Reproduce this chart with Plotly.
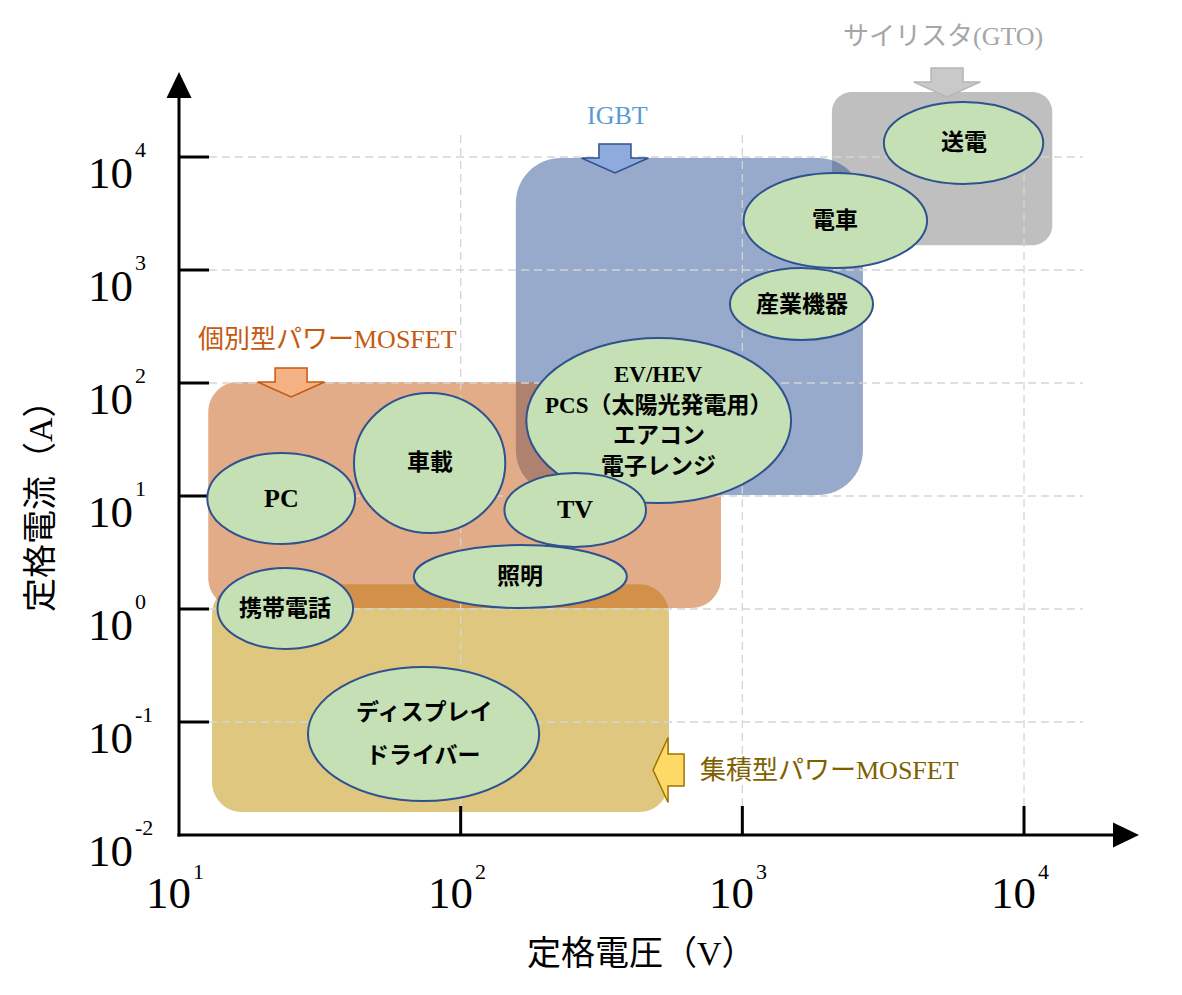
import math
import plotly.graph_objects as go

# ---------------- data ----------------
# Applications: rated voltage range (V) and rated current range (A)
app_labels = ["送電", "電車", "産業機器",
              "EV/HEV\nPCS（太陽光発電用）\nエアコン\n電子レンジ",
              "車載", "PC", "TV", "照明", "携帯電話", "ディスプレイ\nドライバー"]
app_v_min = [3180, 1010, 904, 171, 41.8, 12.6, 143, 68.2, 13.7, 28.7]
app_v_max = [11700, 4530, 2910, 1490, 144, 42.2, 455, 389, 41.5, 190]
app_i_min = [5770, 1040, 240, 8.67, 4.71, 3.76, 3.54, 1.02, 0.443, 0.0200]
app_i_max = [30700, 7210, 1040, 250, 81.7, 24.0, 16.0, 3.68, 2.31, 0.307]

# Device technologies: covered voltage / current regions (drawn in this order)
tech_labels = ["サイリスタ(GTO)", "IGBT", "集積型パワーMOSFET", "個別型パワーMOSFET"]
tech_v_min = [2080, 157, 13.1, 12.7]
tech_v_max = [12600, 2680, 549, 840]
tech_i_min = [1660, 10.2, 0.0160, 1.02]
tech_i_max = [37600, 9800, 1.66, 102]
# arrow tip (V, A) pointing at each region
tech_arrow_v = [5330, 353, 482, 25.0]
tech_arrow_i = [34000, 7210, 0.0376, 75.2]
tech_arrow_dir = ["down", "down", "left", "down"]

x_tick_exp = [1, 2, 3, 4]
y_tick_exp = [-2, -1, 0, 1, 2, 3, 4]

x_title = "定格電圧（V）"
y_title = "定格電流（A）"

# ---------------- styles ----------------
W, H = 1182, 995
SX, SY = 281.67, 113.0          # px per decade
L, R, T, B = 137, 32, 60, 145
X0PX, Y0PX = 179, 835           # pixel of (10^1, 10^-2)
x_range = [1 - (X0PX - L) / SX, 1 + (W - R - X0PX) / SX]
y_range = [-2 - (H - B - Y0PX) / SY, -2 + (Y0PX - T) / SY]

def dx(px):
    return px / SX

def dy(px):
    return px / SY

tech_fill = ["rgba(127,127,127,0.5)", "rgba(47,85,151,0.5)",
             "rgba(191,144,0,0.5)", "rgba(197,90,17,0.5)"]
tech_radius = [20, 45, 30, 30]
arrow_fill = ["#c9c9c9", "#8faadc", "#ffd966", "#f4b183"]
arrow_line = ["#b5b5b5", "#2f528f", "#9c7600", "#c55a11"]
label_color = ["#a6a6a6", "#5b9bd5", "#7f6000", "#c55a11"]
label_off = [(-4, -60), (3, -58), (45, 0), (36, -57)]
label_anchor = ["center", "center", "left", "center"]

ell_fill = "#c5e0b4"
ell_line = "#2f528f"
app_line_gap = [31, 31, 31, 30.7, 31, 31, 31, 31, 31, 43]
app_font_size = [23, 23, 23, 23, 23, 26, 26, 23, 23, 23]

SERIF = "Liberation Serif, Noto Sans CJK JP"
GRID = "#d5d5d5"

shapes = []
annotations = []


def rrect(x0, x1, y0, y1, rpx):
    rx, ry, k = dx(rpx), dy(rpx), 0.5523
    return (f"M{x0+rx},{y0} L{x1-rx},{y0} "
            f"C{x1-rx+k*rx},{y0} {x1},{y0+ry-k*ry} {x1},{y0+ry} "
            f"L{x1},{y1-ry} C{x1},{y1-ry+k*ry} {x1-rx+k*rx},{y1} {x1-rx},{y1} "
            f"L{x0+rx},{y1} C{x0+rx-k*rx},{y1} {x0},{y1-ry+k*ry} {x0},{y1-ry} "
            f"L{x0},{y0+ry} C{x0},{y0+ry-k*ry} {x0+rx-k*rx},{y0} {x0+rx},{y0} Z")


# technology regions
for i in range(len(tech_labels)):
    x0, x1 = math.log10(tech_v_min[i]), math.log10(tech_v_max[i])
    y0, y1 = math.log10(tech_i_min[i]), math.log10(tech_i_max[i])
    shapes.append(dict(type="path", xref="x", yref="y",
                       path=rrect(x0, x1, y0, y1, tech_radius[i]),
                       fillcolor=tech_fill[i], line=dict(width=0)))

# grid lines
for e in y_tick_exp[1:]:
    shapes.append(dict(type="line", xref="x", yref="y",
                       x0=1 + dx(30), x1=1 + dx(1083 - X0PX), y0=e, y1=e,
                       line=dict(color=GRID, width=1.3, dash="8px,5px")))
for e in x_tick_exp[1:]:
    shapes.append(dict(type="line", xref="x", yref="y",
                       x0=e, x1=e, y0=-2 + dy(29), y1=-2 + dy(Y0PX - 130),
                       line=dict(color=GRID, width=1.3, dash="8px,5px")))

# axes with arrow heads
shapes.append(dict(type="line", xref="x", yref="y", x0=1, x1=1,
                   y0=-2 - dy(1.5), y1=-2 + dy(Y0PX - 96),
                   line=dict(color="black", width=3)))
shapes.append(dict(type="line", xref="x", yref="y", x0=1 - dx(1.5),
                   x1=1 + dx(1115 - X0PX), y0=-2, y1=-2,
                   line=dict(color="black", width=3)))
ytip = -2 + dy(Y0PX - 72)
ybase = -2 + dy(Y0PX - 98)
shapes.append(dict(type="path", xref="x", yref="y",
                   path=f"M{1-dx(12.5)},{ybase} L{1},{ytip} L{1+dx(12.5)},{ybase} Z",
                   fillcolor="black", line=dict(width=0)))
xtip = 1 + dx(1139 - X0PX)
xbase = 1 + dx(1113 - X0PX)
shapes.append(dict(type="path", xref="x", yref="y",
                   path=f"M{xbase},{-2+dy(12.5)} L{xtip},{-2} L{xbase},{-2-dy(12.5)} Z",
                   fillcolor="black", line=dict(width=0)))

# ticks
for e in y_tick_exp[1:]:
    shapes.append(dict(type="line", xref="x", yref="y", x0=1, x1=1 + dx(30),
                       y0=e, y1=e, line=dict(color="black", width=3)))
for e in x_tick_exp[1:]:
    shapes.append(dict(type="line", xref="x", yref="y", x0=e, x1=e,
                       y0=-2, y1=-2 + dy(29), line=dict(color="black", width=3)))

# block arrows
DOWN = [(-16, -29), (16, -29), (16, -15), (33.5, -15), (0, 0), (-33.5, -15), (-16, -15)]
LEFT = [(0, 0), (15, -32.5), (15, -16), (31, -16), (31, 16), (15, 16), (15, 32.5)]
for i in range(len(tech_labels)):
    tx, ty = math.log10(tech_arrow_v[i]), math.log10(tech_arrow_i[i])
    pts = DOWN if tech_arrow_dir[i] == "down" else LEFT
    p = "M" + " L".join(f"{tx+dx(a)},{ty-dy(b)}" for a, b in pts) + " Z"
    shapes.append(dict(type="path", xref="x", yref="y", path=p,
                       fillcolor=arrow_fill[i],
                       line=dict(color=arrow_line[i], width=1.5)))
    ox, oy = label_off[i]
    annotations.append(dict(x=tx, y=ty, xref="x", yref="y", showarrow=False,
                            xshift=ox, yshift=-oy, text=tech_labels[i],
                            xanchor=label_anchor[i], yanchor="middle",
                            font=dict(family=SERIF, size=26, color=label_color[i])))

# application ellipses
for i in range(len(app_labels)):
    x0, x1 = math.log10(app_v_min[i]), math.log10(app_v_max[i])
    y0, y1 = math.log10(app_i_min[i]), math.log10(app_i_max[i])
    shapes.append(dict(type="circle", xref="x", yref="y", x0=x0, x1=x1, y0=y0, y1=y1,
                       fillcolor=ell_fill, line=dict(color=ell_line, width=2)))
    lines = app_labels[i].split("\n")
    n = len(lines)
    cx, cy = (x0 + x1) / 2, (y0 + y1) / 2
    for j, t in enumerate(lines):
        off = (j - (n - 1) / 2) * app_line_gap[i]
        annotations.append(dict(x=cx, y=cy, xref="x", yref="y", showarrow=False,
                                yshift=-off, text=t, xanchor="center", yanchor="middle",
                                font=dict(family=SERIF, size=app_font_size[i],
                                          color="black", weight="bold")))

# tick labels (10 with superscript exponent)
for e in y_tick_exp:
    annotations.append(dict(x=1, y=e, xref="x", yref="y", showarrow=False,
                            text="10", xanchor="right", yanchor="middle",
                            xshift=-44, yshift=-16,
                            font=dict(family="Liberation Serif", size=45, color="black")))
    annotations.append(dict(x=1, y=e, xref="x", yref="y", showarrow=False,
                            text=str(e), xanchor="left", yanchor="middle",
                            xshift=-46, yshift=8,
                            font=dict(family="Liberation Serif", size=22, color="black")))
for e in x_tick_exp:
    annotations.append(dict(x=e, y=-2, xref="x", yref="y", showarrow=False,
                            text="10", xanchor="right", yanchor="middle",
                            xshift=14, yshift=-57.5,
                            font=dict(family="Liberation Serif", size=45, color="black")))
    annotations.append(dict(x=e, y=-2, xref="x", yref="y", showarrow=False,
                            text=str(e), xanchor="left", yanchor="middle",
                            xshift=12, yshift=-36,
                            font=dict(family="Liberation Serif", size=22, color="black")))

# axis titles
annotations.append(dict(x=1 + dx(641 - X0PX), y=-2, xref="x", yref="y", showarrow=False,
                        text=x_title, xanchor="center", yanchor="middle", yshift=-118,
                        font=dict(family=SERIF, size=34, color="black")))
annotations.append(dict(x=1, y=-2 + dy(Y0PX - 498), xref="x", yref="y", showarrow=False,
                        text=y_title, textangle=-90, xanchor="center", yanchor="middle",
                        xshift=-139, font=dict(family=SERIF, size=34, color="black")))

fig = go.Figure()
fig.add_trace(go.Scatter(
    x=[(math.log10(a) + math.log10(b)) / 2 for a, b in zip(app_v_min, app_v_max)],
    y=[(math.log10(a) + math.log10(b)) / 2 for a, b in zip(app_i_min, app_i_max)],
    mode="markers", marker=dict(opacity=0), hoverinfo="skip", showlegend=False))

fig.update_layout(
    width=W, height=H, autosize=False,
    margin=dict(l=L, r=R, t=T, b=B, pad=0),
    paper_bgcolor="white", plot_bgcolor="white",
    showlegend=False,
    shapes=shapes, annotations=annotations,
    xaxis=dict(range=x_range, showgrid=False, zeroline=False, showline=False,
               showticklabels=False, ticks="", fixedrange=True),
    yaxis=dict(range=y_range, showgrid=False, zeroline=False, showline=False,
               showticklabels=False, ticks="", fixedrange=True),
)

fig.write_html("out.html")
